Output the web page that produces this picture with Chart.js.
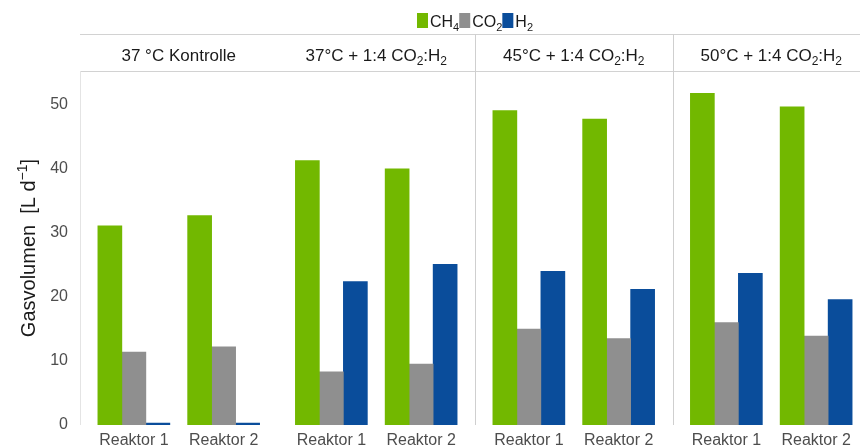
<!DOCTYPE html>
<html>
<head>
<meta charset="utf-8">
<script src="https://cdn.jsdelivr.net/npm/chart.js@4/dist/chart.umd.min.js"></script>
<style>
  html, body { margin: 0; padding: 0; background: #fff; overflow: hidden; width: 860px; height: 448px; }
  #wrap { width: 870px; height: 448px; }
</style>
</head>
<body>
<div id="wrap"><canvas id="c" width="870" height="448"></canvas></div>
<script>
// Facet headers (markup: _{..} subscript, ^{..} superscript)
const panelLabels = [
  '37 °C Kontrolle',
  '37°C + 1:4 CO_{2}:H_{2}',
  '45°C + 1:4 CO_{2}:H_{2}',
  '50°C + 1:4 CO_{2}:H_{2}'
];
const reactorLabels = ['Reaktor 1', 'Reaktor 2'];

// Daily gas volume per reactor, in panel order (L d^-1)
const ch4 = [31.1, 32.7, 41.3, 40.0, 49.1, 47.8, 51.8, 49.7];
const co2 = [11.4, 12.2, 8.3, 9.5, 15.0, 13.5, 16.0, 13.9];
const h2  = [0.3, 0.3, 22.4, 25.1, 24.0, 21.2, 23.7, 19.6];

const seriesNames = ['CH_{4}', 'CO_{2}', 'H_{2}'];
const seriesColors = ['#72b800', '#8f8f8f', '#0a4d9b'];
const yTicks = [0, 10, 20, 30, 40, 50];
const yTitle = 'Gasvolumen  [L d^{−1}]';

const FONT = '"Liberation Sans", Arial, Helvetica, sans-serif';

// Each facet spans 2.2 x-units; reactors sit at 0.6 and 1.6 inside it
const PANEL = 2.2, EXPAND = 0.6;
const xPos = i => Math.floor(i / 2) * PANEL + EXPAND + (i % 2);
const toPoints = arr => arr.map((v, i) => ({ x: xPos(i), y: v }));

function parseRich(text) {
  const segs = [];
  const re = /([_^])\{([^}]*)\}/g;
  let last = 0, m;
  while ((m = re.exec(text)) !== null) {
    if (m.index > last) segs.push({ t: text.slice(last, m.index), k: 'n' });
    segs.push({ t: m[2], k: m[1] === '_' ? 'sub' : 'sup' });
    last = re.lastIndex;
  }
  if (last < text.length) segs.push({ t: text.slice(last), k: 'n' });
  return segs;
}

function drawRich(ctx, text, x, baseline, size, align) {
  const segs = parseRich(text);
  const small = Math.round(size * 0.68);
  const fontOf = s => (s.k === 'n' ? size : small) + 'px ' + FONT;
  let total = 0;
  segs.forEach(s => { ctx.font = fontOf(s); s.w = ctx.measureText(s.t).width; total += s.w; });
  let cx = align === 'center' ? x - total / 2 : (align === 'right' ? x - total : x);
  ctx.textAlign = 'left';
  ctx.textBaseline = 'alphabetic';
  segs.forEach(s => {
    ctx.font = fontOf(s);
    const dy = s.k === 'sub' ? size * 0.22 : (s.k === 'sup' ? -size * 0.42 : 0);
    ctx.fillText(s.t, cx, baseline + dy);
    cx += s.w;
  });
  return total;
}

function richWidth(ctx, text, size) {
  const segs = parseRich(text);
  const small = Math.round(size * 0.68);
  let total = 0;
  segs.forEach(s => { ctx.font = (s.k === 'n' ? size : small) + 'px ' + FONT; total += ctx.measureText(s.t).width; });
  return total;
}

const facetDecor = {
  id: 'facetDecor',
  afterDraw(chart) {
    const { ctx, chartArea: a, scales: { x } } = chart;
    const stripTop = 34;
    ctx.save();

    // strip borders
    ctx.strokeStyle = '#d2d2d2';
    ctx.lineWidth = 1;
    ctx.beginPath();
    ctx.moveTo(a.left, stripTop + 0.5); ctx.lineTo(a.right, stripTop + 0.5);
    ctx.moveTo(a.left, a.top + 0.5); ctx.lineTo(a.right, a.top + 0.5);
    ctx.stroke();

    // panel separators
    ctx.strokeStyle = '#cfcfcf';
    ctx.beginPath();
    [2, 3].forEach(p => {
      const px = Math.round(x.getPixelForValue(p * PANEL)) + 0.5;
      ctx.moveTo(px, stripTop); ctx.lineTo(px, a.bottom);
    });
    ctx.stroke();

    // left panel edge
    ctx.strokeStyle = '#e4e4e4';
    ctx.beginPath();
    ctx.moveTo(a.left + 0.5, a.top); ctx.lineTo(a.left + 0.5, a.bottom);
    ctx.stroke();

    // strip labels
    ctx.fillStyle = '#1a1a1a';
    panelLabels.forEach((lab, p) => {
      const cx = x.getPixelForValue(p * PANEL + PANEL / 2);
      drawRich(ctx, lab, cx, 61, 17, 'center');
    });

    // legend
    const lsz = 16, boxW = 11, boxH = 15, gap = 2;
    let total = 0;
    seriesNames.forEach(n => { total += boxW + gap + richWidth(ctx, n, lsz); });
    let lx = (a.left + a.right) / 2 - total / 2;
    seriesNames.forEach((n, i) => {
      ctx.fillStyle = seriesColors[i];
      ctx.fillRect(lx, 13, boxW, boxH);
      lx += boxW + gap;
      ctx.fillStyle = '#1a1a1a';
      lx += drawRich(ctx, n, lx, 27, lsz, 'left');
    });

    // y axis title
    ctx.save();
    ctx.translate(35, (a.top + a.bottom) / 2);
    ctx.rotate(-Math.PI / 2);
    ctx.fillStyle = '#1a1a1a';
    drawRich(ctx, yTitle, 0, 0, 20, 'center');
    ctx.restore();

    ctx.restore();
  }
};

new Chart(document.getElementById('c'), {
  type: 'bar',
  data: {
    datasets: [
      { label: 'CH4', data: toPoints(ch4), backgroundColor: seriesColors[0] },
      { label: 'CO2', data: toPoints(co2), backgroundColor: seriesColors[1] },
      { label: 'H2',  data: toPoints(h2),  backgroundColor: seriesColors[2] }
    ]
  },
  options: {
    responsive: false,
    animation: false,
    devicePixelRatio: 1,
    barThickness: 24,
    borderWidth: 0,
    layout: { padding: { top: 71, left: 0, right: 0, bottom: 0 } },
    plugins: { legend: { display: false }, title: { display: false }, tooltip: { enabled: false } },
    scales: {
      x: {
        type: 'linear',
        min: 0,
        max: PANEL * panelLabels.length,
        offset: false,
        grid: { display: false, drawTicks: false },
        border: { display: false },
        afterBuildTicks: s => { s.ticks = ch4.map((_, i) => ({ value: xPos(i) })); },
        afterFit: s => { s.height = 23; },
        ticks: {
          autoSkip: false,
          maxRotation: 0,
          padding: 6,
          color: '#4d4d4d',
          font: { family: FONT, size: 16 },
          callback: (v, i) => reactorLabels[i % 2]
        }
      },
      y: {
        min: 0,
        max: 55.3,
        grid: { display: false, drawTicks: false },
        border: { display: false },
        afterBuildTicks: s => { s.ticks = yTicks.map(v => ({ value: v })); },
        afterFit: s => { s.width = 80; },
        ticks: {
          padding: 12,
          color: '#4d4d4d',
          font: { family: FONT, size: 16 }
        }
      }
    }
  },
  plugins: [facetDecor]
});
</script>
</body>
</html>
